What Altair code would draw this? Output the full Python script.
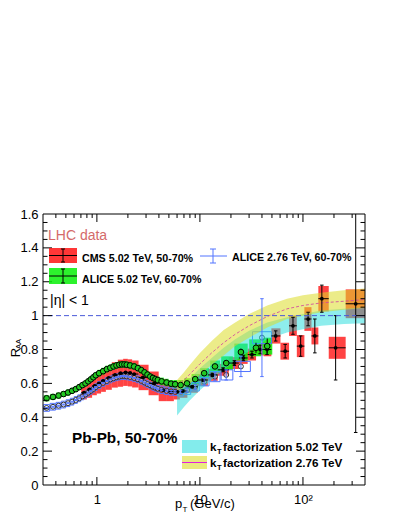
import altair as alt
import numpy as np
import pandas as pd

FONT = "Liberation Sans"

# ---------------- data ----------------
# ALICE 5.02 TeV, 60-70 %
a5_pt = [0.325, 0.375, 0.425, 0.475, 0.525, 0.575, 0.625, 0.675, 0.725, 0.775, 0.825, 0.875, 0.925, 0.975,
         1.05, 1.15, 1.25, 1.35, 1.45, 1.55, 1.65, 1.75, 1.85, 1.95,
         2.1, 2.3, 2.5, 2.7, 2.9, 3.1, 3.3, 3.5, 3.7, 3.9,
         4.25, 4.75, 5.25, 5.75,
         6.5, 7.5, 9, 11, 14, 18, 25, 35, 45]
a5_raa = [0.512, 0.52, 0.528, 0.537, 0.546, 0.556, 0.566, 0.578, 0.59, 0.60, 0.612, 0.624, 0.636, 0.648,
          0.66, 0.672, 0.684, 0.692, 0.70, 0.706, 0.71, 0.712, 0.712, 0.71,
          0.706, 0.70, 0.69, 0.678, 0.665, 0.652, 0.64, 0.632, 0.625, 0.62,
          0.612, 0.605, 0.598, 0.595,
          0.59, 0.60, 0.625, 0.66, 0.70, 0.72, 0.785, 0.81, 0.82]
a5_stat = [0.003, 0.003, 0.003, 0.003, 0.003, 0.003, 0.003, 0.003, 0.003, 0.003, 0.003, 0.003, 0.003, 0.003,
           0.003, 0.003, 0.003, 0.003, 0.003, 0.003, 0.003, 0.003, 0.003, 0.003,
           0.003, 0.003, 0.003, 0.003, 0.003, 0.003, 0.003, 0.003, 0.003, 0.003,
           0.004, 0.004, 0.004, 0.005,
           0.005, 0.006, 0.008, 0.01, 0.012, 0.015, 0.02, 0.03, 0.045]
a5_sys = [0.018, 0.018, 0.018, 0.018, 0.018, 0.018, 0.018, 0.018, 0.018, 0.018, 0.018, 0.018, 0.018, 0.018,
          0.02, 0.02, 0.02, 0.02, 0.02, 0.02, 0.02, 0.02, 0.02, 0.02,
          0.02, 0.02, 0.02, 0.02, 0.02, 0.02, 0.02, 0.02, 0.02, 0.02,
          0.022, 0.022, 0.022, 0.025,
          0.03, 0.03, 0.03, 0.03, 0.035, 0.04, 0.05, 0.05, 0.05]

# ALICE 2.76 TeV, 60-70 %
a2_pt = [0.325, 0.375, 0.425, 0.475, 0.525, 0.575, 0.625, 0.675, 0.725, 0.775, 0.825, 0.875, 0.925, 0.975,
         1.05, 1.15, 1.25, 1.35, 1.45, 1.55, 1.65, 1.75, 1.85, 1.95,
         2.1, 2.3, 2.5, 2.7, 2.9, 3.1, 3.3, 3.5, 3.7, 3.9,
         4.25, 4.75, 5.25, 5.75,
         6.5, 7.5, 9, 11, 14, 18, 25, 40]
a2_raa = [0.455, 0.462, 0.468, 0.475, 0.483, 0.492, 0.502, 0.512, 0.523, 0.534, 0.545, 0.556, 0.567, 0.578,
          0.59, 0.603, 0.614, 0.623, 0.63, 0.636, 0.64, 0.643, 0.643, 0.641,
          0.638, 0.632, 0.624, 0.615, 0.605, 0.596, 0.588, 0.58, 0.574, 0.568,
          0.562, 0.556, 0.552, 0.55,
          0.55, 0.56, 0.58, 0.61, 0.64, 0.65, 0.70, 0.87]
a2_stat = [0.003, 0.003, 0.003, 0.003, 0.003, 0.003, 0.003, 0.003, 0.003, 0.003, 0.003, 0.003, 0.003, 0.003,
           0.003, 0.003, 0.003, 0.003, 0.003, 0.003, 0.003, 0.003, 0.003, 0.003,
           0.003, 0.003, 0.003, 0.003, 0.003, 0.003, 0.003, 0.004, 0.004, 0.004,
           0.005, 0.005, 0.006, 0.006,
           0.01, 0.012, 0.015, 0.02, 0.025, 0.03, 0.06, 0.23]
a2_sys = [0.02, 0.02, 0.02, 0.02, 0.02, 0.02, 0.02, 0.02, 0.02, 0.02, 0.02, 0.02, 0.02, 0.02,
          0.02, 0.02, 0.02, 0.02, 0.02, 0.02, 0.02, 0.02, 0.02, 0.02,
          0.02, 0.02, 0.02, 0.02, 0.02, 0.02, 0.02, 0.02, 0.02, 0.02,
          0.022, 0.022, 0.022, 0.022,
          0.025, 0.025, 0.025, 0.025, 0.03, 0.03, 0.03, 0.035]

# CMS 5.02 TeV, 50-70 %
cms_pt = [0.75, 0.85, 0.95, 1.05, 1.15, 1.3, 1.5, 1.7, 1.9, 2.1, 2.3, 2.8,
          3.6, 4.4, 5.2, 6.0, 6.8, 8.4, 10.8, 13.2, 16.8,
          21.6, 26.4, 32.0, 38.4, 44.8, 54.4, 67.2, 80.0, 95.0,
          112.2, 130.4, 152.5, 207.5, 325.0]
cms_raa = [0.545, 0.565, 0.585, 0.60, 0.615, 0.632, 0.65, 0.66, 0.665, 0.662, 0.655, 0.635,
           0.60, 0.56, 0.55, 0.55, 0.555, 0.58, 0.62, 0.65, 0.68,
           0.72, 0.75, 0.77, 0.80, 0.80, 0.88, 0.79, 0.94, 0.82,
           0.98, 0.88, 1.10, 0.81, 1.07]
cms_stat = [0.003, 0.003, 0.003, 0.003, 0.003, 0.003, 0.003, 0.003, 0.003, 0.003, 0.003, 0.003,
            0.003, 0.004, 0.004, 0.005, 0.006, 0.006, 0.008, 0.01, 0.012,
            0.014, 0.016, 0.02, 0.025, 0.03, 0.03, 0.04, 0.05, 0.06,
            0.04, 0.10, 0.08, 0.19, 0.76]
cms_sys = [0.04, 0.05, 0.055, 0.06, 0.065, 0.07, 0.075, 0.08, 0.08, 0.08, 0.08, 0.075,
           0.07, 0.065, 0.055, 0.045, 0.04, 0.035, 0.035, 0.035, 0.035,
           0.035, 0.035, 0.035, 0.035, 0.04, 0.045, 0.05, 0.06, 0.065,
           0.07, 0.05, 0.075, 0.065, 0.085]

# kT factorization bands
b5_pt = [6, 7, 8, 10, 13, 17, 22, 30, 45, 70, 100, 150, 250, 400]
b5_lo = [0.41, 0.46, 0.50, 0.56, 0.62, 0.68, 0.73, 0.79, 0.86, 0.90, 0.92, 0.94, 0.95, 0.955]
b5_hi = [0.55, 0.59, 0.63, 0.69, 0.75, 0.81, 0.86, 0.91, 0.96, 0.99, 1.01, 1.03, 1.04, 1.05]

b2_pt = [6, 7, 8, 10, 13, 17, 22, 30, 45, 70, 100, 150, 250, 400]
b2_lo = [0.55, 0.575, 0.60, 0.65, 0.71, 0.765, 0.82, 0.87, 0.93, 0.98, 1.0, 1.02, 1.035, 1.045]
b2_hi = [0.62, 0.665, 0.71, 0.78, 0.85, 0.915, 0.96, 1.01, 1.06, 1.10, 1.12, 1.135, 1.15, 1.16]
b2_mid = [0.585, 0.62, 0.655, 0.715, 0.78, 0.84, 0.89, 0.94, 0.995, 1.04, 1.06, 1.075, 1.085, 1.095]

# axis ticks
x_major = [1, 10, 100]
x_minor = [0.4, 0.5, 0.6, 0.7, 0.8, 0.9, 2, 3, 4, 5, 6, 7, 8, 9,
           20, 30, 40, 50, 60, 70, 80, 90, 200, 300]
y_major = [0.2, 0.4, 0.6, 0.8, 1.0, 1.2, 1.4]
y_minor = [0.05, 0.1, 0.15, 0.25, 0.3, 0.35, 0.45, 0.5, 0.55, 0.65, 0.7, 0.75,
           0.85, 0.9, 0.95, 1.05, 1.1, 1.15, 1.25, 1.3, 1.35, 1.45, 1.5, 1.55]
y_labels = [0, 0.2, 0.4, 0.6, 0.8, 1.0, 1.2, 1.4, 1.6]

# ---------------- helpers ----------------
W, H = 322, 271
xs = alt.Scale(type="log", domain=[0.3, 400])
ys = alt.Scale(domain=[0, 1.6])
xaxis = alt.Axis(values=x_major,
                 labelExpr="datum.value >= 100 ? '10²' : (datum.value >= 10 ? '10' : '1')",
                 ticks=False, domain=False, grid=False, title=None, labelFont=FONT,
                 labelFontSize=13, labelColor="black", labelPadding=8,
                 labelOverlap=False, labelFlush=False)
yaxis = alt.Axis(values=y_labels, format="~g", ticks=False, domain=False, grid=False,
                 title=None, labelFont=FONT, labelFontSize=13, labelColor="black",
                 labelPadding=5, labelOverlap=False, labelFlush=False)


def X(f):
    return alt.X(f, type="quantitative", scale=xs, axis=xaxis)


def Y(f):
    return alt.Y(f, type="quantitative", scale=ys, axis=yaxis)


def series(pt, raa, stat, sys_, shrink):
    pt = np.asarray(pt, float)
    raa = np.asarray(raa, float)
    stat = np.asarray(stat, float)
    sys_ = np.asarray(sys_, float)
    lp = np.log10(pt)
    mid = (lp[1:] + lp[:-1]) / 2
    left = np.r_[2 * lp[0] - mid[0], mid]
    right = np.r_[mid, 2 * lp[-1] - mid[-1]]
    return pd.DataFrame(dict(
        pt=pt, raa=raa, lo=raa - stat, hi=raa + stat, slo=raa - sys_, shi=raa + sys_,
        xl=10 ** (lp - (lp - left) * shrink), xr=10 ** (lp + (right - lp) * shrink),
        bl=10 ** left, br=10 ** right, cl=pt / 1.04, cr=pt * 1.04))


a5 = series(a5_pt, a5_raa, a5_stat, a5_sys, 0.9)
a2 = series(a2_pt, a2_raa, a2_stat, a2_sys, 0.9)
cms = series(cms_pt, cms_raa, cms_stat, cms_sys, 1.0)
band5 = pd.DataFrame(dict(pt=b5_pt, lo=b5_lo, hi=b5_hi))
band2 = pd.DataFrame(dict(pt=b2_pt, lo=b2_lo, hi=b2_hi, mid=b2_mid))

dummy = pd.DataFrame({"a": [0]})


def label(s, x, y, size, bold=False, color="black", angle=0, align="left", baseline="alphabetic"):
    kw = dict(text=s, font=FONT, fontSize=size, color=color, align=align, baseline=baseline)
    if bold:
        kw["fontWeight"] = "bold"
    if angle:
        kw["angle"] = angle
    return alt.Chart(dummy).mark_text(**kw).encode(x=alt.value(x), y=alt.value(y))


def prect(x1, x2, y1, y2, **kw):
    return alt.Chart(dummy).mark_rect(**kw).encode(
        x=alt.value(x1), x2=alt.value(x2), y=alt.value(y1), y2=alt.value(y2))


def pline(x1, x2, y1, y2, color="black", **kw):
    return alt.Chart(dummy).mark_rule(color=color, strokeWidth=1, **kw).encode(
        x=alt.value(x1), x2=alt.value(x2), y=alt.value(y1), y2=alt.value(y2))


RED = "#ff1414"
GREEN_BOX = "#08f008"
GREEN_MK = "#22c822"
BLUE = "#5274ff"
CYAN = "#1edcdc"
YELLOW = "#dcdc28"
MAGENTA = "#d040a0"

layers = []

# systematic boxes
layers.append(alt.Chart(cms).mark_rect(color=RED, opacity=0.8, clip=True).encode(
    x=X("xl"), x2="xr", y=Y("slo"), y2="shi"))
layers.append(alt.Chart(a5).mark_rect(color=GREEN_BOX, opacity=0.85, clip=True).encode(
    x=X("xl"), x2="xr", y=Y("slo"), y2="shi"))
layers.append(alt.Chart(a2).mark_rect(fillOpacity=0, stroke=BLUE, strokeWidth=1, clip=True).encode(
    x=X("xl"), x2="xr", y=Y("slo"), y2="shi"))
layers.append(alt.Chart(a2).mark_point(shape="circle", filled=True, fill="white", fillOpacity=0.5,
                                       stroke="#333333", strokeWidth=1, size=24, opacity=1,
                                       clip=True).encode(x=X("pt"), y=Y("raa")))

# theory bands
layers.append(alt.Chart(band5).mark_area(color=CYAN, opacity=0.5, clip=True).encode(
    x=X("pt"), y=Y("lo"), y2="hi"))
layers.append(alt.Chart(band2).mark_area(color=YELLOW, opacity=0.55, clip=True).encode(
    x=X("pt"), y=Y("lo"), y2="hi"))
layers.append(alt.Chart(band2).mark_line(color=MAGENTA, strokeWidth=1, strokeDash=[3, 2],
                                         opacity=0.8, clip=True).encode(x=X("pt"), y=Y("mid")))

# CMS error bars and markers
layers.append(alt.Chart(cms).mark_rule(color="black", strokeWidth=1, clip=True).encode(
    x=X("pt"), y=Y("lo"), y2="hi"))
layers.append(alt.Chart(cms).mark_rule(color="black", strokeWidth=1, clip=True).encode(
    x=X("bl"), x2="br", y=Y("raa")))
layers.append(alt.Chart(cms).mark_rule(color="black", strokeWidth=1, clip=True).encode(
    x=X("cl"), x2="cr", y=Y("lo")))
layers.append(alt.Chart(cms).mark_rule(color="black", strokeWidth=1, clip=True).encode(
    x=X("cl"), x2="cr", y=Y("hi")))
layers.append(alt.Chart(cms).mark_point(shape="circle", filled=True, color="black", size=14,
                                        opacity=1, clip=True).encode(x=X("pt"), y=Y("raa")))

# ALICE 5.02 error bars and markers
layers.append(alt.Chart(a5).mark_rule(color="black", strokeWidth=1, clip=True).encode(
    x=X("pt"), y=Y("lo"), y2="hi"))
layers.append(alt.Chart(a5).mark_point(shape="circle", filled=True, fill=GREEN_MK, stroke="black",
                                       strokeWidth=1, size=32, opacity=1, clip=True).encode(
    x=X("pt"), y=Y("raa")))

# ALICE 2.76 error bars
layers.append(alt.Chart(a2).mark_rule(color=BLUE, strokeWidth=1, clip=True).encode(
    x=X("pt"), y=Y("lo"), y2="hi"))
layers.append(alt.Chart(a2).mark_rule(color=BLUE, strokeWidth=1, clip=True).encode(
    x=X("cl"), x2="cr", y=Y("lo")))
layers.append(alt.Chart(a2).mark_rule(color=BLUE, strokeWidth=1, clip=True).encode(
    x=X("cl"), x2="cr", y=Y("hi")))

# unity line
layers.append(alt.Chart(pd.DataFrame({"v": [1.0]})).mark_rule(
    color="#4a5ad8", strokeWidth=1, strokeDash=[5, 3]).encode(y=Y("v")))

# inward ticks (all four sides)
dxM = pd.DataFrame({"v": x_major})
dxm = pd.DataFrame({"v": x_minor})
dyM = pd.DataFrame({"v": y_major})
dym = pd.DataFrame({"v": y_minor})
for d, L in ((dxM, 8), (dxm, 4)):
    layers.append(alt.Chart(d).mark_rule(color="black", strokeWidth=1).encode(
        x=X("v"), y=alt.value(H), y2=alt.value(H - L)))
    layers.append(alt.Chart(d).mark_rule(color="black", strokeWidth=1).encode(
        x=X("v"), y=alt.value(0), y2=alt.value(L)))
for d, L in ((dyM, 9), (dym, 4.5)):
    layers.append(alt.Chart(d).mark_rule(color="black", strokeWidth=1).encode(
        y=Y("v"), x=alt.value(0), x2=alt.value(L)))
    layers.append(alt.Chart(d).mark_rule(color="black", strokeWidth=1).encode(
        y=Y("v"), x=alt.value(W), x2=alt.value(W - L)))

# frame
layers += [pline(0, W, 0, 0), pline(0, W, H, H), pline(0, 0, 0, H), pline(W, W, 0, H)]

# legends and annotations
layers.append(label("LHC data", 5, 26, 14, color="#d46a6a"))
layers.append(prect(6, 34, 34, 49, color=RED, opacity=0.85))
layers += [pline(6, 34, 41.5, 41.5), pline(20, 20, 35, 48), pline(18, 22, 35, 35), pline(18, 22, 48, 48)]
layers.append(label("CMS 5.02 TeV, 50-70%", 39, 48, 10.7, bold=True))
layers.append(prect(6, 34, 54, 70, color=GREEN_BOX, opacity=0.85))
layers += [pline(6, 34, 62, 62), pline(20, 20, 55, 69), pline(18, 22, 55, 55), pline(18, 22, 69, 69)]
layers.append(label("ALICE 5.02 TeV, 60-70%", 39, 69, 10.7, bold=True))
layers += [pline(157, 184, 42, 42, color=BLUE), pline(170, 170, 35, 49, color=BLUE),
           pline(167, 173, 35, 35, color=BLUE), pline(167, 173, 49, 49, color=BLUE)]
layers.append(label("ALICE 2.76 TeV, 60-70%", 189, 47, 10.7, bold=True))
layers.append(label("|η| < 1", 7, 91, 14))
layers.append(label("Pb-Pb, 50-70%", 29, 229, 15.3, bold=True))

layers.append(prect(139, 164, 226, 239, color=CYAN, opacity=0.55))
layers.append(label("k", 167, 237, 11.7, bold=True))
layers.append(label("T", 174, 240, 7.5, bold=True))
layers.append(label("factorization 5.02 TeV", 180, 237, 11.7, bold=True))
layers.append(prect(139, 164, 242, 255, color=YELLOW, opacity=0.6))
layers.append(pline(139, 164, 248.5, 248.5, color="#e020e0"))
layers.append(label("k", 167, 253, 11.7, bold=True))
layers.append(label("T", 174, 256, 7.5, bold=True))
layers.append(label("factorization 2.76 TeV", 180, 253, 11.7, bold=True))

# axis titles
layers.append(label("p", 132, 294, 13))
layers.append(label("T", 139.5, 298, 8))
layers.append(label("(GeV/c)", 147, 294, 13))
layers.append(label("R", -27.5, 138.5, 13, angle=270, align="center", baseline="middle"))
layers.append(label("AA", -24, 130, 7.5, angle=270, align="center", baseline="middle"))

chart = alt.layer(*layers).properties(
    width=W, height=H,
    padding={"left": 35, "top": 206, "right": 26, "bottom": 28},
    autosize=alt.AutoSizeParams(type="none"),
).configure_view(stroke=None)

chart.save("out.html", embed_options={"renderer": "svg", "actions": False})
